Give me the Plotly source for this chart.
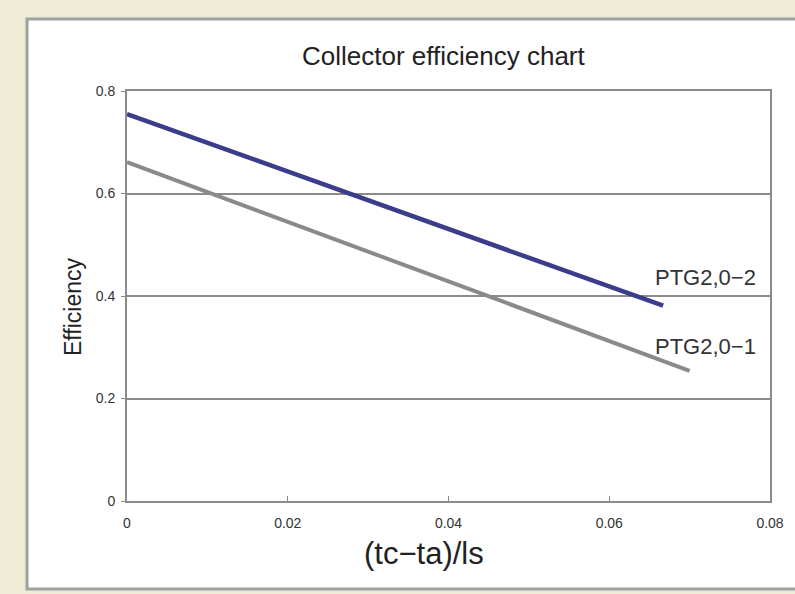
import plotly.graph_objects as go

W, H = 795, 594

series_names = ["PTG2,0−2", "PTG2,0−1"]
x_ptg2 = [0.0, 0.0667]
y_ptg2 = [0.755, 0.381]
x_ptg1 = [0.0, 0.0700]
y_ptg1 = [0.661, 0.254]
x_ticks = [0, 0.02, 0.04, 0.06, 0.08]
x_tick_labels = ["0", "0.02", "0.04", "0.06", "0.08"]
y_ticks = [0, 0.2, 0.4, 0.6, 0.8]
y_tick_labels = ["0", "0.2", "0.4", "0.6", "0.8"]
label_pos = [(0.0720, 0.436), (0.0720, 0.302)]

FONT = "Liberation Sans, Arial, Helvetica, sans-serif"

fig = go.Figure()
fig.add_trace(go.Scatter(x=x_ptg1, y=y_ptg1, mode="lines",
                         line=dict(color="#8a8a8a", width=4), name=series_names[1]))
fig.add_trace(go.Scatter(x=x_ptg2, y=y_ptg2, mode="lines",
                         line=dict(color="#3b3d8a", width=4.5), name=series_names[0]))

for name, (lx, ly) in zip(series_names, label_pos):
    fig.add_annotation(x=lx, y=ly, xref="x", yref="y", text=name, showarrow=False,
                       font=dict(family=FONT, size=22, color="#333333"),
                       xanchor="center", yanchor="middle")

# outer white panel with gray border
fig.add_shape(type="rect", xref="paper", yref="paper",
              x0=27 / W, x1=805 / W, y0=1 - 589 / H, y1=1 - 19 / H,
              fillcolor="white", line=dict(color="#a0a0a0", width=3), layer="below")

fig.add_annotation(x=444 / W, y=1 - 56 / H, xref="paper", yref="paper",
                   text="Collector efficiency chart", showarrow=False,
                   font=dict(family=FONT, size=26, color="#222222"),
                   xanchor="center", yanchor="middle")
fig.add_annotation(x=424 / W, y=1 - 553 / H, xref="paper", yref="paper",
                   text="(tc−ta)/ls", showarrow=False,
                   font=dict(family=FONT, size=31, color="#222222"),
                   xanchor="center", yanchor="middle")
fig.add_annotation(x=73 / W, y=1 - 307 / H, xref="paper", yref="paper",
                   text="Efficiency", showarrow=False, textangle=-90,
                   font=dict(family=FONT, size=23, color="#222222"),
                   xanchor="center", yanchor="middle")

fig.update_layout(
    width=W, height=H,
    margin=dict(l=0, r=0, t=0, b=0),
    paper_bgcolor="#efecd6",
    plot_bgcolor="white",
    showlegend=False,
    xaxis=dict(domain=[127 / W, 770 / W], range=[0, 0.08],
               tickvals=x_ticks, ticktext=x_tick_labels,
               ticks="inside", ticklen=5, tickcolor="#888888",
               showgrid=False, zeroline=False,
               showline=True, linecolor="#8c8c8c", linewidth=2, mirror=True,
               tickfont=dict(family=FONT, size=14, color="#333333"),
               ticklabelstandoff=8, automargin=False),
    yaxis=dict(domain=[1 - 501 / H, 1 - 91 / H], range=[0, 0.8],
               tickvals=y_ticks, ticktext=y_tick_labels,
               ticks="outside", ticklen=4, tickcolor="#888888",
               showgrid=True, gridcolor="#8c8c8c", gridwidth=1.5, zeroline=False,
               showline=True, linecolor="#8c8c8c", linewidth=2, mirror=True,
               tickfont=dict(family=FONT, size=14, color="#333333"),
               ticklabelstandoff=3, automargin=False),
)

fig.write_html(
    "out.html",
    config={"displayModeBar": False},
    post_script="document.body.style.margin='0';document.body.style.padding='0';"
                "document.body.style.background='#efecd6';"
                "document.documentElement.style.background='#efecd6';"
                "document.body.style.overflow='hidden';",
)
